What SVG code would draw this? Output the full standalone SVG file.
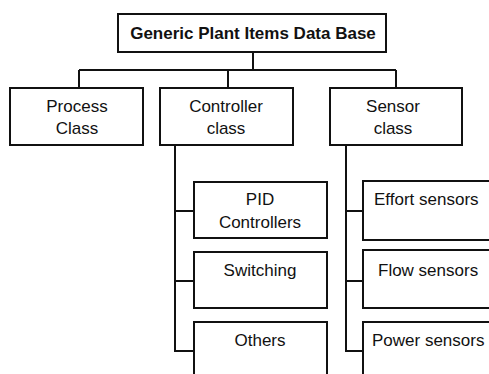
<svg xmlns="http://www.w3.org/2000/svg" width="489" height="374" viewBox="0 0 489 374">
<style>
.box{fill:#fff;stroke:#111;stroke-width:2}
.ln{fill:none;stroke:#111;stroke-width:2}
text{font-family:"Liberation Sans",Arial,sans-serif;font-size:17px;fill:#111}
.c{text-anchor:middle}
.b{font-weight:bold}
</style>
<g id="connectors">
<path class="ln" d="M253 52V70M79 70H396M79 70V88M228 70V88M396 70V88"/>
<path class="ln" d="M175 145V352M175 211H194M175 281H194M175 351H194"/>
<path class="ln" d="M346 145V352M346 211H363M346 281H363M346 351H363"/>
</g>
<g id="root"><rect class="box" x="118" y="14" width="268" height="38"/><text class="c b" x="253" y="39">Generic Plant Items Data Base</text></g>
<g id="process"><rect class="box" x="10" y="88" width="133" height="57"/><text class="c" x="77" y="112">Process</text><text class="c" x="77" y="134">Class</text></g>
<g id="controller"><rect class="box" x="160" y="88" width="133" height="57"/><text class="c" x="226" y="112">Controller</text><text class="c" x="226" y="134">class</text></g>
<g id="sensor"><rect class="box" x="330" y="88" width="132" height="57"/><text class="c" x="393" y="112">Sensor</text><text class="c" x="393" y="134">class</text></g>
<g id="pid"><rect class="box" x="194" y="182" width="133" height="56"/><text class="c" x="260" y="205">PID</text><text class="c" x="260" y="228">Controllers</text></g>
<g id="switching"><rect class="box" x="194" y="252" width="133" height="56"/><text class="c" x="260" y="276">Switching</text></g>
<g id="others"><rect class="box" x="194" y="322" width="133" height="60"/><text class="c" x="260" y="346">Others</text></g>
<g id="effort"><rect class="box" x="363" y="181" width="140" height="59"/><text x="374" y="205">Effort sensors</text></g>
<g id="flow"><rect class="box" x="363" y="250" width="140" height="58"/><text x="378" y="276">Flow sensors</text></g>
<g id="power"><rect class="box" x="363" y="322" width="140" height="60"/><text x="372" y="346">Power sensors</text></g>
</svg>
